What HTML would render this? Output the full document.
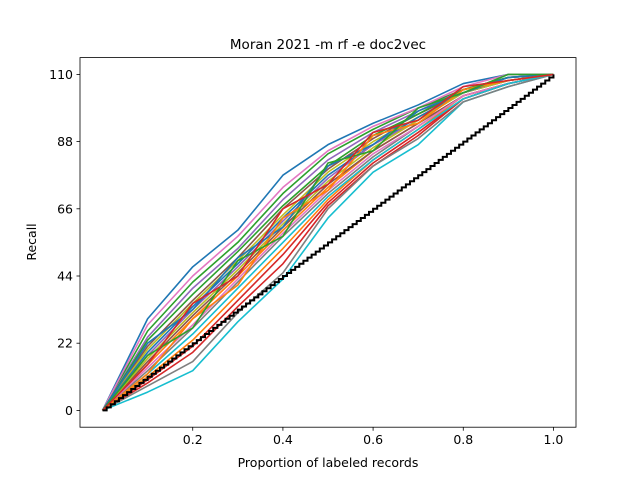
<!DOCTYPE html>
<html><head><meta charset="utf-8"><style>
body{margin:0;background:#fff}
svg{display:block;font-family:"DejaVu Sans","Liberation Sans",sans-serif}
</style></head><body>
<svg id="chart" width="640" height="480" viewBox="0 0 640 480" xmlns="http://www.w3.org/2000/svg">
<rect width="640" height="480" fill="#fff"/>
<text x="328" y="49" font-size="13.5" text-anchor="middle">Moran 2021 -m rf -e doc2vec</text>
<g id="series"></g>
<g id="axes"></g>
<text x="328" y="467" font-size="12.5" text-anchor="middle">Proportion of labeled records</text>
<text transform="translate(36,242) rotate(-90)" font-size="12.5" text-anchor="middle">Recall</text>
</svg>
<script>
const xProps = [0,0.1,0.2,0.3,0.4,0.5,0.6,0.7,0.8,0.9,1.0];
const s1 = [0,30,47,59,77,87,94,100,107,110,110];
const s2 = [0,11,23,38,53,69,82,92,103,107,110];
const s3 = [0,26,42,55,71,84,92,99,105,109,110];
const s4 = [0,9,19,34,48,67,80,90,102,107,110];
const s5 = [0,24,40,53,69,82,91,98,105,109,110];
const s6 = [0,21,36,50,66,79,89,97,104,108,110];
const s7 = [0,28,44,57,73,85,93,99,106,110,110];
const s8 = [0,13,27,42,57,71,83,93,103,107,110];
const s9 = [0,20,35,49,64,78,88,96,104,108,110];
const s10 = [0,6,13,29,43,63,78,87,101,106,110];
const s11 = [0,19,34,48,63,77,87,96,104,108,110];
const s12 = [0,15,30,44,59,73,85,94,103,107,110];
const s13 = [0,23,38,52,67,80,90,97,105,109,110];
const s14 = [0,10,21,36,51,68,81,91,102,107,110];
const s15 = [0,18,33,47,62,76,87,95,104,108,110];
const s16 = [0,16,31,45,60,74,85,94,103,107,110];
const s17 = [0,14,28,43,58,72,84,93,103,107,110];
const s18 = [0,8,16,32,45,66,80,89,101,106,110];
const s19 = [0,17,32,46,61,75,86,95,104,108,110];
const s20 = [0,12,25,40,55,70,82,92,102,107,110];
const s21 = [0,22,33,50,60,80,87,98,104,109,110];
const s22 = [0,12,30,41,63,72,90,94,105,108,110];
const s23 = [0,18,27,49,57,81,85,99,104,110,110];
const s24 = [0,15,35,44,66,74,91,95,106,108,110];
const seriesList = [s1,s2,s3,s4,s5,s6,s7,s8,s9,s10,s11,s12,s13,s14,s15,s16,s17,s18,s19,s20,s21,s22,s23,s24];
const totalRelevant = 110;
const xTicks = [0.2,0.4,0.6,0.8,1.0];
const xTickLabels = ["0.2","0.4","0.6","0.8","1.0"];
const yTicks = [0,22,44,66,88,110];
const yTickLabels = ["0","22","44","66","88","110"];

const colors = ["#1f77b4","#ff7f0e","#2ca02c","#d62728","#9467bd","#8c564b","#e377c2","#7f7f7f","#bcbd22","#17becf"];
const L=80,R=576,T=57.6,B=427.2;
const xMin=-0.05,xMax=1.05,yMin=-5.5,yMax=115.5;
const sx=v=>L+(v-xMin)/(xMax-xMin)*(R-L);
const sy=v=>B-(v-yMin)/(yMax-yMin)*(B-T);
const NS="http://www.w3.org/2000/svg";
const gS=document.getElementById('series'), gA=document.getElementById('axes');

seriesList.forEach((s,i)=>{
  let d="M"+sx(xProps[0])+","+sy(s[0]);
  for(let k=1;k<s.length;k++){ d+=" L"+sx(xProps[k])+","+sy(s[k]); }
  const p=document.createElementNS(NS,'path');
  p.setAttribute('d',d);p.setAttribute('fill','none');
  p.setAttribute('stroke',colors[i%10]);p.setAttribute('stroke-width','1.6');
  p.setAttribute('stroke-linejoin','round');
  
  
  gS.appendChild(p);
});
let bd="M"+sx(0)+","+sy(0);
for(let k=1;k<=totalRelevant;k++){ bd+=" H"+sx(k/totalRelevant)+" V"+sy(k); }
const bp=document.createElementNS(NS,'path');
bp.setAttribute('d',bd);bp.setAttribute('fill','none');bp.setAttribute('stroke','#000');bp.setAttribute('stroke-width','2');


gS.appendChild(bp);

const frame=document.createElementNS(NS,'rect');
frame.setAttribute('x',L);frame.setAttribute('y',T);frame.setAttribute('width',R-L);frame.setAttribute('height',B-T);
frame.setAttribute('fill','none');frame.setAttribute('stroke','#000');frame.setAttribute('stroke-width','0.8');


gA.appendChild(frame);

xTicks.forEach((v,i)=>{
  const x=sx(v);
  const t=document.createElementNS(NS,'line');
  t.setAttribute('x1',x);t.setAttribute('x2',x);t.setAttribute('y1',B);t.setAttribute('y2',B+3.5);t.setAttribute('stroke','#000');t.setAttribute('stroke-width','0.8');
  
  
  gA.appendChild(t);
  const tx=document.createElementNS(NS,'text');
  tx.setAttribute('x',x);tx.setAttribute('y',B+17);tx.setAttribute('font-size','12.5');tx.setAttribute('text-anchor','middle');
  tx.textContent=xTickLabels[i];
  
  
  gA.appendChild(tx);
});
yTicks.forEach((v,i)=>{
  const y=sy(v);
  const t=document.createElementNS(NS,'line');
  t.setAttribute('x1',L-3.5);t.setAttribute('x2',L);t.setAttribute('y1',y);t.setAttribute('y2',y);t.setAttribute('stroke','#000');t.setAttribute('stroke-width','0.8');
  
  
  gA.appendChild(t);
  const tx=document.createElementNS(NS,'text');
  tx.setAttribute('x',L-7);tx.setAttribute('y',y+4.5);tx.setAttribute('font-size','12.5');tx.setAttribute('text-anchor','end');
  tx.textContent=yTickLabels[i];
  
  
  gA.appendChild(tx);
});
</script>
</body></html>
